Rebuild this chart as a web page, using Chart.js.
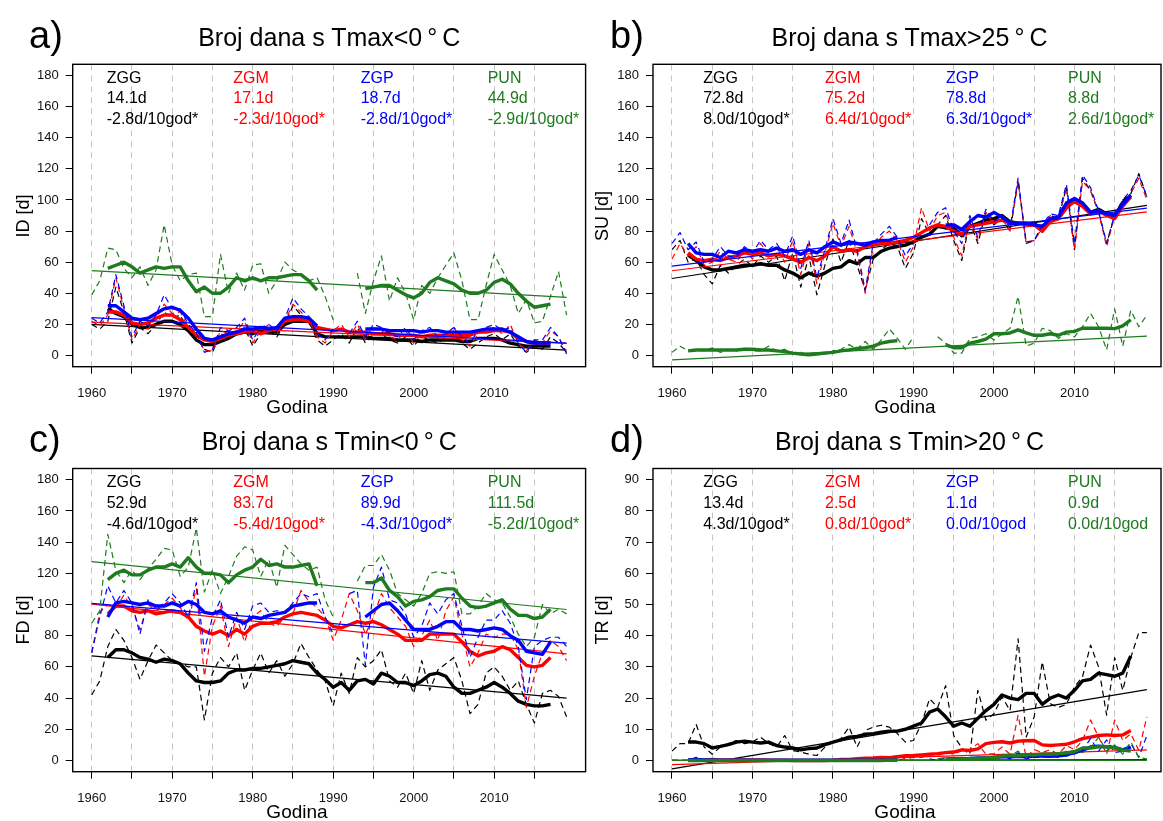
<!DOCTYPE html>
<html>
<head>
<meta charset="utf-8">
<script src="https://cdn.jsdelivr.net/npm/chart.js@4.4.1/dist/chart.umd.min.js"></script>
<style>
  html, body { margin: 0; padding: 0; background: #fff; }
  #wrap { position: relative; width: 1163px; height: 821px; overflow: hidden;
          font-family: "Liberation Sans", Arial, Helvetica, sans-serif; }
  #wrap canvas { position: absolute; left: 0; top: 0; }
  .t { position: absolute; white-space: nowrap; line-height: 1; z-index: 5; }
</style>
</head>
<body>
<div id="wrap"></div>
<script>
// ---- data (1960..2019) ----
const years = [1960, 1961, 1962, 1963, 1964, 1965, 1966, 1967, 1968, 1969,
  1970, 1971, 1972, 1973, 1974, 1975, 1976, 1977, 1978, 1979,
  1980, 1981, 1982, 1983, 1984, 1985, 1986, 1987, 1988, 1989,
  1990, 1991, 1992, 1993, 1994, 1995, 1996, 1997, 1998, 1999,
  2000, 2001, 2002, 2003, 2004, 2005, 2006, 2007, 2008, 2009,
  2010, 2011, 2012, 2013, 2014, 2015, 2016, 2017, 2018, 2019];
const trendYears = [1960, 2019];
const xTicks = [1960, 1965, 1970, 1975, 1980, 1985, 1990, 1995, 2000, 2005, 2010, 2015];
const dayTicks = [0, 20, 40, 60, 80, 100, 120, 140, 160, 180];
const trTicks = [0, 10, 20, 30, 40, 50, 60, 70, 80, 90];

const stations = ['ZGG', 'ZGM', 'ZGP', 'PUN'];

// a) ID - Tmax < 0
const idZGG = [20, 17, 22, 44, 28, 8, 18, 14, 20, 28,
  24, 26, 16, 12, 4, 2, 14, 12, 15, 18,
  6, 14, 16, 12, 20, 32, 26, 22, 10, 6,
  10, 14, 8, 18, 8, 14, 14, 10, 8, 12,
  6, 12, 10, 8, 12, 14, 8, 4, 8, 12,
  14, 10, 14, 6, 2, 6, 4, 12, 8, 2];
const idZGM = [22, 19, 26, 50, 30, 10, 20, 17, 24, 33,
  27, 28, 18, 14, 3, 3, 16, 14, 16, 22,
  8, 16, 20, 14, 22, 33, 28, 22, 12, 8,
  16, 20, 12, 20, 10, 18, 16, 12, 10, 16,
  8, 14, 16, 10, 14, 18, 10, 6, 14, 16,
  18, 14, 20, 8, 3, 10, 8, 16, 12, 2];
const idZGP = [24, 21, 28, 52, 32, 12, 22, 19, 26, 39,
  30, 30, 20, 15, 2, 4, 18, 16, 18, 24,
  10, 18, 20, 16, 24, 37, 30, 25, 14, 10,
  17, null, 14, 22, 12, 20, 18, 14, 12, 18,
  10, 16, 18, 12, 14, 18, 12, 8, 16, 18,
  20, 16, 18, 8, 2, 10, 10, 18, 12, 1];
const idPUN = [39, 48, 69, 68, 56, 50, 57, 45, 55, 84,
  58, 48, 52, 53, 25, 25, 65, 40, 53, 42,
  58, 59, 40, 48, 60, 55, 52, 48, 50, 38,
  23, null, null, 53, 27, 48, 64, 35, 50, 40,
  23, 45, 40, 50, 58, 66, 48, 23, 23, 45,
  65, 55, 45, 27, 36, 21, 22, 38, 54, 26];
const idZGGs = [null, null, 30, 27, 25, 20, 18, 18, 20, 22,
  22, 20, 16, 10, 7, 7, 9, 11, 14, 15,
  14, 16, 15, 15, 20, 22, 22, 22, 14, 12,
  12, 12, 12, 12, 12, 11, 11, 11, 10, 10,
  10, 9, 10, 10, 10, 10, 9, 9, 11, 11,
  11, 10, 8, 7, 6, 6, 6, 6, null, null];
const idZGMs = [null, null, 28, 28, 26, 21, 20, 21, 24, 26,
  26, 23, 18, 13, 10, 9, 11, 13, 14, 15,
  16, 14, 16, 17, 22, 23, 23, 22, 18, 17,
  16, 17, 15, 15, 15, 14, 14, 14, 13, 13,
  13, 12, 13, 13, 13, 13, 13, 13, 15, 15,
  16, 16, 15, 11, 9, 8, 8, 8, null, null];
const idZGPs = [null, null, 32, 32, 28, 24, 23, 24, 27, 30,
  31, 29, 24, 17, 11, 10, 12, 14, 15, 17,
  17, 18, 17, 18, 24, 25, 25, 24, 19, null,
  null, null, null, null, 17, 17, 17, 16, 16, 16,
  16, 15, 16, 16, 15, 15, 15, 15, 16, 17,
  17, 17, 15, 12, 9, 8, 8, 8, null, null];
const idPUNs = [null, null, 56, 58, 60, 57, 53, 55, 57, 56,
  57, 57, 48, 41, 44, 40, 40, 44, 50, 48,
  50, 48, 50, 50, 51, 52, 52, 48, 42, null,
  null, null, null, null, 43, 44, 45, 45, 42, 39,
  37, 40, 47, 50, 48, 46, 42, 40, 40, 42,
  47, 49, 46, 40, 35, 31, 32, 33, null, null];
const idTrend = [[20, 3.5], [21.4, 7.8], [24.4, 7.9], [54.5, 37.4]];
const idMean = ['14.1d', '17.1d', '18.7d', '44.9d'];
const idSlope = ['-2.8d/10god*', '-2.3d/10god*', '-2.8d/10god*', '-2.9d/10god*'];

// b) SU - Tmax > 25
const suZGG = [68, 74, 60, 62, 52, 46, 58, 53, 58, 62,
  57, 64, 60, 64, 48, 66, 44, 64, 39, 58,
  75, 60, 74, 58, 42, 62, 68, 72, 70, 56,
  66, 88, 78, 84, 90, 74, 61, 86, 72, 92,
  84, 88, 80, 112, 72, 74, 82, 90, 88, 108,
  68, 114, 106, 92, 72, 90, 100, 104, 117, 102];
const suZGM = [62, 72, 64, 70, 58, 60, 67, 62, 60, 68,
  62, 72, 65, 70, 60, 74, 52, 72, 46, 66,
  85, 70, 83, 66, 40, 70, 76, 80, 74, 60,
  70, 95, 80, 90, 92, 76, 64, 88, 74, 92,
  84, 88, 80, 112, 72, 74, 82, 90, 88, 108,
  68, 112, 106, 92, 70, 90, 98, 104, 114, 100];
const suZGP = [72, 79, 68, 73, 60, 62, 70, 64, 63, 70,
  66, 74, 68, 72, 64, 77, 56, 74, 50, 68,
  88, 72, 87, 68, 42, 72, 78, 83, 76, 64,
  72, null, 84, 92, 95, 80, 72, 90, 76, 94,
  86, 90, 82, 114, 73, 74, 84, 91, 90, 110,
  72, 116, 108, 93, 72, 91, 100, 106, 116, 102];
const suPUN = [2, 6, 3, 4, 3, 5, 2, 4, 3, 5,
  3, 3, 6, 3, 4, 1, 2, 0, 1, 1,
  3, 4, 7, 4, 9, 4, 10, 17, 11, 4,
  12, null, null, 12, 8, 1.5, 1.5, 11, 12, 14,
  10, 14, 17.5, 38, 6, 8, 17.5, 16, 11, 14,
  12, 18.5, 27, 18.5, 3.6, 30, 6, 29, 18.5, 26];
const suZGGs = [null, null, 64.5, 61, 57, 55, 55, 56, 57, 58,
  58, 59, 58, 58, 55, 53, 50, 53, 51, 53,
  56, 57, 61, 59, 63, 63, 67, 69, 70, 71,
  73, 76, 78, 83, 82, 82, 77, 83, 85, 87,
  88, 90, 86, 85, 85, 85, 80, 87, 88, 95,
  100, 98, 92, 94, 91, 90, 98, 103, null, null];
const suZGMs = [null, null, 66, 62, 61, 62, 61, 63, 64, 66,
  65, 66, 64, 65, 64, 62, 60, 63, 61, 64,
  70, 67, 68, 67, 70, 71, 72, 72, 73, 74,
  76, 79, 82, 84, 83, 80, 78, 83, 84, 85,
  86, 87, 85, 85, 84, 84, 80, 86, 88, 95,
  99, 96, 91, 93, 90, 88, 96, 102, null, null];
const suZGPs = [null, null, 72, 66, 65, 65, 63, 67, 66, 68,
  67, 68, 67, 69, 67, 68, 65, 68, 66, 70,
  73, 71, 73, 72, 71, 73, 74, 74, 76, null,
  null, null, null, null, 84, 84, 81, 86, 90, 89,
  92, 89, 85, 85, 85, 84, 83, 88, 89, 98,
  101, 98, 92, 93, 91, 90, 97, 103, null, null];
const suPUNs = [null, null, 3, 3.5, 3.5, 3.5, 3.5, 3.5, 3.5, 4,
  4, 3.5, 3.5, 3, 2.5, 1.5, 1, 0.5, 1, 1.5,
  2, 3, 3.6, 4.5, 5, 6, 8, 9, 9.6, null,
  null, null, null, null, 7, 5, 5, 8, 9, 10.5,
  14, 14, 14.5, 16.5, 14.5, 13, 13, 14, 13, 15,
  15.5, 17.5, 17.5, 17.5, 17.5, 17.3, 19, 23, null, null];
const suTrend = [[49.5, 96.5], [54.5, 92.3], [57.5, 94.7], [-2.8, 12.5]];
const suMean = ['72.8d', '75.2d', '78.8d', '8.8d'];
const suSlope = ['8.0d/10god*', '6.4d/10god*', '6.3d/10god*', '2.6d/10god*'];

// c) FD - Tmin < 0
const fdZGG = [42, 51, 73, 84, 77, 66, 52, 64, 74, 69,
  64, 62, 60, 60, 26, 56, 66, 60, 69, 45,
  58, 69, 56, 64, 54, 62, 75, 66, 58, 51,
  35, 56, 43, 66, 60, 64, 71, 51, 47, 56,
  43, 64, 45, 58, 62, 66, 51, 30, 36, 56,
  60, 54, 45, 51, 36, 24, 43, 45, 41, 28];
const fdZGM = [69, 95, 100, 98, 106, 98, 84, 100, 96, 100,
  104, 98, 90, 110, 54, 86, 99, 73, 92, 76,
  92, 96, 88, 86, 92, 94, 109, 102, 98, 92,
  77, 90, 107, 96, 81, 92, 107, 98, 92, 86,
  73, 80, 90, 77, 96, 105, 81, 60, 69, 81,
  79, 81, 81, 71, 34, 54, 69, 77, 73, 64];
const fdZGP = [69, 92, 112, 101, 109, 101, 81, 103, 97, 101,
  107, 101, 92, 114, 70, 92, 103, 79, 95, 84,
  99, 101, 95, 96, 95, 101, 107, 105, 107, 92,
  81, null, 107, 109, 61, 111, 124, 103, 101, 94,
  79, 86, 101, 94, 103, 107, 86, 66, 79, 90,
  90, 96, 88, 73, 39, 73, 77, 79, 79, 73];
const fdPUN = [88, 96, 145, 122, 114, 122, 116, 123, 129, 136,
  135, 118, 124, 149, 108, 122, 107, 118, 131, 137,
  135, 118, 129, 111, 138, 132, 126, 122, 124, 103,
  92, null, null, 115, 125, 125, 132, 122, 107, 103,
  99, 107, 120, 121, 120, 121, 94, 94, 99, 107,
  103, 101, 92, 81, 73, 79, 100, 94, 97, 94];
const fdZGGs = [null, null, 66, 71, 71, 69, 66, 65, 63, 65,
  64, 62, 56, 51, 50, 50, 51, 56, 58, 58,
  59, 59, 60, 61, 62, 64, 63, 62, 56, 52,
  47, 50, 45, 51, 52, 49, 56, 54, 50, 50,
  48, 51, 55, 56, 54, 47, 43, 43, 45, 47,
  50, 47, 43, 38, 36, 35, 35, 36, null, null];
const fdZGMs = [null, null, 94, 99, 99, 96, 95, 96, 94, 95,
  96, 95, 92, 86, 83, 81, 83, 80, 84, 81,
  86, 88, 88, 89, 92, 94, 95, 94, 93, 90,
  86, 85, 87, 89, 88, 89, 87, 84, 81, 77,
  77, 77, 81, 81, 81, 81, 76, 70, 67, 69,
  70, 73, 71, 66, 61, 60, 61, 66, null, null];
const fdZGPs = [null, null, 92, 101, 102, 101, 100, 101, 99, 99,
  101, 99, 102, 100, 95, 94, 96, 92, 90, 88,
  92, 91, 93, 94, 95, 99, 100, 101, 101, null,
  null, null, null, null, 92, 96, 100, 101, 96, 90,
  84, 84, 84, 86, 89, 89, 84, 84, 83, 84,
  85, 84, 80, 77, 70, 69, 68, 76, null, null];
const fdPUNs = [null, null, 116, 120, 122, 119, 119, 122, 124, 124,
  126, 124, 130, 124, 120, 120, 119, 114, 119, 122,
  124, 129, 125, 126, 124, 124, 125, 126, 112, null,
  null, null, null, null, 114, 114, 117, 109, 105, 99,
  102, 103, 105, 109, 110, 110, 104, 99, 98, 99,
  101, 103, 97, 93, 93, 91, 92, 97, null, null];
const fdTrend = [[67, 40], [100.3, 68.4], [100.7, 75.3], [127.5, 96.8]];
const fdMean = ['52.9d', '83.7d', '89.9d', '111.5d'];
const fdSlope = ['-4.6d/10god*', '-5.4d/10god*', '-4.3d/10god*', '-5.2d/10god*'];

// d) TR - Tmin > 20
const trZGG = [3, 5.4, 5.4, 11.6, 4.3, 2, 4.3, 5.4, 6.4, 5.4,
  5.9, 7.5, 5.4, 4.3, 8, 3.2, 2.7, 2, 1.6, 4.3,
  5.9, 7, 10.7, 4.3, 9.6, 10.7, 11.3, 10.7, 8.6, 5.9,
  6.4, 11.8, 19.8, 17, 24, 8, 4, 2, 22.5, 12.9,
  15, 20.4, 16, 39, 7.5, 14, 31.6, 18.2, 17, 18,
  23.6, 26.8, 37, 30, 14.5, 33, 22.5, 33, 41, 41];
const trZGM = [0, 0, 0, 0.5, 0, 0, 0, 0, 0.5, 0,
  0, 0, 0.5, 0, 0, 0, 0, 0, 0, 0,
  0, 0, 0.5, 0, 1, 0.5, 1, 1, 1.5, 0.5,
  1, 1, 2, 1.5, 2.7, 2, 3.2, 3.5, 5.4, 2,
  2.2, 4.3, 2, 14.5, 1, 3.5, 2.5, 3.5, 2, 4.8,
  3.5, 6.4, 13, 7.5, 2, 13, 6.4, 8.6, 3.2, 14];
const trZGP = [0, 0, 0, 1, 0, 0, 0, 0, 0.5, 0,
  0, 0, 0, 0, 0, 0, 0, 0, 0, 0,
  0, 0, 0, 0, 0, 0, 0, 0, 0.5, 0,
  0, null, 0.5, 0, 1, 0.5, 0, 1, 1, 0.5,
  1, 1, 0.5, 2.5, 0.5, 1, 1, 1.5, 1, 2,
  2, 3.2, 7, 3, 6.6, 2.5, 3, 5.4, 1, 8];
const trPUN = [0, 0, 0, 0, 0, 0, 0, 0, 0, 0,
  0, 0, 0, 0, 0, 0, 0, 0, 0, 0,
  0, 0, 0, 0, 0, 0, 0, 0.5, 0, 0,
  0, null, null, 0.5, 1, 0, 0, 1, 0.5, 1,
  0.5, 1, 1.5, 3, 1, 1.5, 2, 2, 1.5, 3,
  3, 2.5, 4, 7.5, 3, 5, 2, 6, 1, 0.5];
const trZGGs = [null, null, 5.9, 5.9, 5.4, 4, 4.5, 5.1, 5.9, 6.2,
  5.9, 5.6, 5.9, 4.8, 4.3, 4, 3.4, 3.8, 4, 5.1,
  5.9, 6.6, 7.5, 7.7, 8.4, 8.6, 9.1, 9.4, 9.4, 10,
  11, 12, 15.5, 16.5, 14, 11, 12, 11, 13.5, 16,
  18, 21, 20, 19.5, 21.5, 21.5, 18, 20, 21, 20,
  22.5, 25.5, 26, 28, 27.5, 27, 28, 33.5, null, null];
const trZGMs = [null, null, 0.2, 0.2, 0.2, 0.3, 0.2, 0.2, 0.2, 0.2,
  0.2, 0.2, 0.1, 0.1, 0.1, 0, 0, 0, 0, 0,
  0.1, 0.3, 0.3, 0.6, 0.7, 0.8, 1, 0.9, 1.2, 1.5,
  1.6, 1.8, 2, 2.2, 2.5, 2.7, 3.4, 3.2, 3.7, 5.4,
  5.8, 6, 5.6, 6.2, 6.3, 6.4, 5, 4.8, 5, 5.2,
  6, 7, 7.5, 8, 8.2, 8, 8.2, 9.6, null, null];
const trZGPs = [null, null, 0.2, 0.3, 0.2, 0.2, 0.1, 0.1, 0.1, 0.1,
  0.1, 0.1, 0.1, 0.1, 0.1, 0.1, 0.1, 0.1, 0.1, 0.1,
  0.1, 0.1, 0.1, 0.1, 0.1, 0.1, 0.1, 0.1, 0.2, null,
  null, null, null, null, 0.5, 0.6, 0.6, 0.6, 0.8, 0.8,
  1, 1.2, 1.2, 1.3, 1.2, 1.4, 1.4, 1.3, 1.5, 1.7,
  2.7, 3.2, 4.3, 4.6, 4.4, 4.2, 3.4, 4.3, null, null];
const trPUNs = [null, null, 0, 0, 0, 0, 0, 0, 0, 0,
  0, 0, 0, 0, 0, 0, 0, 0, 0, 0,
  0, 0, 0, 0, 0, 0, 0, 0.1, 0.1, null,
  null, null, null, null, 0.5, 0.5, 0.5, 0.6, 0.7, 0.8,
  1, 1.4, 1.6, 1.4, 1.8, 1.8, 2, 2, 2.2, 2.4,
  2.8, 4, 4, 4.4, 4.4, 4, 3.3, 3, null, null];
const trTrend = [[-2.7, 22.7], [-1.3, 3.4], [0, 0.3], [0, 0]];
const trMean = ['13.4d', '2.5d', '1.1d', '0.9d'];
const trSlope = ['4.3d/10god*', '0.8d/10god*', '0.0d/10god', '0.0d/10god'];

// ---- look & layout ----
const W = 1163, H = 821;
const FONT = '"Liberation Sans", Arial, Helvetica, sans-serif';
const colors = ['#000000', '#ff0000', '#0000ff', '#1e7b1e'];
const PX_PER_YEAR = 8.049;
const X_MIN = 1957.64;
const Y_W = 60, X_H = 40;

const panels = [
  { letter: 'a)', title: 'Broj dana s Tmax<0\u2009°\u2009C', ylab: 'ID [d]',
    annual: [idZGG, idZGM, idZGP, idPUN], smooth: [idZGGs, idZGMs, idZGPs, idPUNs],
    trend: idTrend, means: idMean, slopes: idSlope, ticks: dayTicks, yMin: -7.2, yMax: 187.2,
    box: { L: 72.7, R: 585.6, T: 64.3, B: 366.7 }, titleX: 329.2, labX: 297, letterX: 29, ylabX: 23,
    textX: [106.7, 233.3, 360.7, 487.7] },
  { letter: 'b)', title: 'Broj dana s Tmax>25\u2009°\u2009C', ylab: 'SU [d]',
    annual: [suZGG, suZGM, suZGP, suPUN], smooth: [suZGGs, suZGMs, suZGPs, suPUNs],
    trend: suTrend, means: suMean, slopes: suSlope, ticks: dayTicks, yMin: -7.2, yMax: 187.2,
    box: { L: 653, R: 1161, T: 64.3, B: 366.7 }, titleX: 909.5, labX: 905, letterX: 610, ylabX: 601.7,
    textX: [703.3, 825, 946, 1068] },
  { letter: 'c)', title: 'Broj dana s Tmin<0\u2009°\u2009C', ylab: 'FD [d]',
    annual: [fdZGG, fdZGM, fdZGP, fdPUN], smooth: [fdZGGs, fdZGMs, fdZGPs, fdPUNs],
    trend: fdTrend, means: fdMean, slopes: fdSlope, ticks: dayTicks, yMin: -7.2, yMax: 187.2,
    box: { L: 72.7, R: 585.6, T: 468.5, B: 771.7 }, titleX: 329.2, labX: 297, letterX: 29, ylabX: 23,
    textX: [106.7, 233.3, 360.7, 487.7] },
  { letter: 'd)', title: 'Broj dana s Tmin>20\u2009°\u2009C', ylab: 'TR [d]',
    annual: [trZGG, trZGM, trZGP, trPUN], smooth: [trZGGs, trZGMs, trZGPs, trPUNs],
    trend: trTrend, means: trMean, slopes: trSlope, ticks: trTicks, yMin: -3.6, yMax: 93.6,
    box: { L: 653, R: 1161, T: 468.5, B: 771.7 }, titleX: 909.5, labX: 905, letterX: 610, ylabX: 601.7,
    textX: [703.3, 825, 946, 1068] }
];

const wrap = document.getElementById('wrap');

function addText(txt, x, baseline, size, color, center) {
  const d = document.createElement('div');
  d.className = 't';
  d.textContent = txt;
  d.style.fontSize = size + 'px';
  d.style.color = color;
  d.style.left = x + 'px';
  d.style.top = (baseline - 0.8465 * size) + 'px';
  if (center) d.style.transform = 'translateX(-50%)';
  wrap.appendChild(d);
}

function addVertical(txt, cx, cy, size) {
  const d = document.createElement('div');
  d.className = 't';
  d.textContent = txt;
  d.style.fontSize = size + 'px';
  d.style.left = cx + 'px';
  d.style.top = cy + 'px';
  d.style.transform = 'translate(-50%, -50%) rotate(-90deg)';
  wrap.appendChild(d);
}

const framePlugin = {
  id: 'frame',
  afterDatasetsDraw(chart) {
    const { ctx, chartArea: a } = chart;
    ctx.save();
    ctx.lineWidth = 1.4;
    ctx.strokeStyle = '#000';
    ctx.strokeRect(a.left, a.top, a.right - a.left, a.bottom - a.top);
    ctx.restore();
  }
};

function makeChart(p) {
  const cv = document.createElement('canvas');
  cv.width = W; cv.height = H;
  cv.style.width = W + 'px'; cv.style.height = H + 'px';
  wrap.appendChild(cv);

  const datasets = [];
  let k = 0;
  stations.forEach((s, i) => {
    datasets.push({
      label: s + ' annual',
      data: years.map((yr, j) => ({ x: yr, y: p.annual[i][j] })),
      borderColor: colors[i], borderWidth: 1.2, borderDash: [6, 4], order: -(k++)
    });
    datasets.push({
      label: s + ' smooth',
      data: years.map((yr, j) => ({ x: yr, y: p.smooth[i][j] })),
      borderColor: colors[i], borderWidth: 3.4, order: -(k++)
    });
    datasets.push({
      label: s + ' trend',
      data: trendYears.map((yr, j) => ({ x: yr, y: p.trend[i][j] })),
      borderColor: colors[i], borderWidth: 1.2, order: -(k++)
    });
  });

  new Chart(cv, {
    type: 'line',
    data: { datasets },
    options: {
      responsive: false,
      animation: false,
      events: [],
      layout: { padding: { left: p.box.L - Y_W, right: W - p.box.R, top: p.box.T, bottom: H - p.box.B - X_H } },
      plugins: { legend: { display: false }, tooltip: { enabled: false } },
      elements: {
        point: { radius: 0 },
        line: { tension: 0, fill: false, spanGaps: false, borderJoinStyle: 'round' }
      },
      scales: {
        x: {
          type: 'linear',
          min: X_MIN,
          max: X_MIN + (p.box.R - p.box.L) / PX_PER_YEAR,
          afterBuildTicks: ax => { ax.ticks = xTicks.map(v => ({ value: v })); },
          afterFit: ax => { ax.height = X_H; },
          ticks: {
            autoSkip: false, maxRotation: 0, minRotation: 0, padding: 11.5,
            font: { family: FONT, size: 13 }, color: '#111',
            callback: v => (v % 10 === 0 ? String(v) : '')
          },
          grid: { color: '#c4c4c4', lineWidth: 1, tickColor: '#000', tickLength: 7, tickWidth: 1 },
          border: { display: false, dash: [6, 5] }
        },
        y: {
          type: 'linear',
          min: p.yMin,
          max: p.yMax,
          afterBuildTicks: ax => { ax.ticks = p.ticks.map(v => ({ value: v })); },
          afterFit: ax => { ax.width = Y_W; },
          ticks: { padding: 7, font: { family: FONT, size: 13 }, color: '#111' },
          grid: { drawOnChartArea: false, tickColor: '#000', tickLength: 7, tickWidth: 1 },
          border: { display: false }
        }
      }
    },
    plugins: [framePlugin]
  });

  // texts
  const top = p.box.T;
  addText(p.letter, p.letterX, top - 16.3, 38, '#000', false);
  addText(p.title, p.titleX, top - 18.3, 25, '#000', true);
  addText('Godina', p.labX, p.box.B + 46.3, 19, '#000', true);
  addVertical(p.ylab, p.ylabX, (p.box.T + p.box.B) / 2, 18);
  stations.forEach((s, i) => {
    addText(s, p.textX[i], top + 19.2, 16, colors[i], false);
    addText(p.means[i], p.textX[i], top + 39.7, 16, colors[i], false);
    addText(p.slopes[i], p.textX[i], top + 60.7, 16, colors[i], false);
  });
}

panels.forEach(makeChart);
</script>
</body>
</html>
